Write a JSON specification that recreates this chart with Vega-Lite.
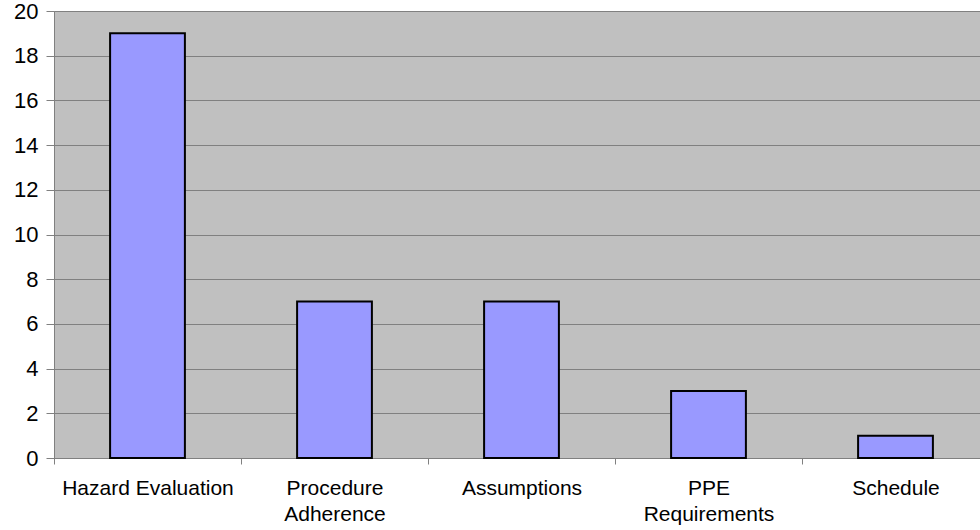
{
  "$schema": "https://vega.github.io/schema/vega-lite/v6.json",
  "width": 935,
  "height": 447,
  "autosize": {"type": "none"},
  "padding": {"left": 54, "top": 11, "right": 0, "bottom": 72},
  "background": "white",
  "config": {
    "view": {"fill": "#c0c0c0", "stroke": "#808080", "strokeWidth": 1},
    "font": "Liberation Sans"
  },
  "data": {
    "values": [
      {"category": "Hazard Evaluation", "count": 19},
      {"category": "Procedure|Adherence", "count": 7},
      {"category": "Assumptions", "count": 7},
      {"category": "PPE|Requirements", "count": 3},
      {"category": "Schedule", "count": 1}
    ]
  },
  "mark": {"type": "bar", "color": "#9999ff", "stroke": "#000000", "strokeWidth": 2},
  "encoding": {
    "x": {
      "field": "category",
      "type": "nominal",
      "sort": null,
      "scale": {"paddingInner": 0.6, "paddingOuter": 0.3},
      "axis": {
        "title": null,
        "labelAngle": 0,
        "labelExpr": "split(datum.label, '|')",
        "labelFont": "Liberation Sans",
        "labelFontSize": 21,
        "labelColor": "#000000",
        "labelLineHeight": 26,
        "labelPadding": 13,
        "tickSize": 6,
        "tickColor": "#808080",
        "tickOffset": -93.5,
        "labelOffset": 93.5,
        "domainColor": "#808080",
        "grid": false
      }
    },
    "y": {
      "field": "count",
      "type": "quantitative",
      "scale": {"domain": [0, 20], "nice": false},
      "axis": {
        "title": null,
        "values": [0, 2, 4, 6, 8, 10, 12, 14, 16, 18, 20],
        "labelFont": "Liberation Sans",
        "labelFontSize": 22,
        "labelColor": "#000000",
        "labelPadding": 8,
        "tickSize": 8,
        "tickColor": "#808080",
        "domainColor": "#808080",
        "grid": true,
        "gridColor": "#808080",
        "gridWidth": 1,
        "gridOpacity": 1
      }
    }
  }
}
